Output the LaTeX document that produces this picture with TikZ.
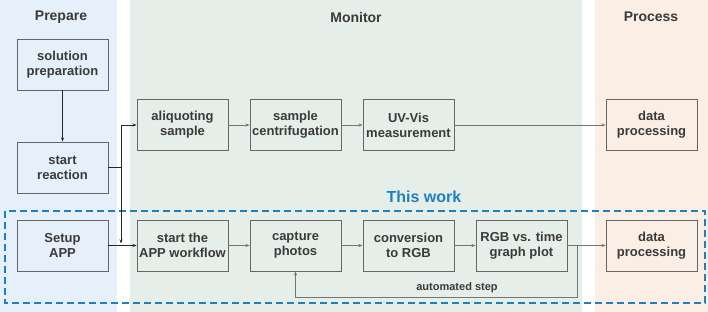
\documentclass[tikz,border=0pt]{standalone}
\usepackage{fontspec}
\setmainfont{Liberation Sans}
\usetikzlibrary{arrows.meta}
\definecolor{prepbg}{HTML}{E6F0FA}
\definecolor{monbg}{HTML}{E6EEE9}
\definecolor{procbg}{HTML}{FBEEE5}
\definecolor{boxline}{HTML}{666666}
\definecolor{txtgray}{HTML}{3A3A3A}
\definecolor{workblue}{HTML}{1F80C0}
\begin{document}
\begin{tikzpicture}[x=1pt, y=-1pt,
    stepbox/.style={draw=boxline, line width=0.9pt, minimum width=91pt, minimum height=51pt,
        inner sep=0pt, align=center, text=txtgray, font=\bfseries\fontsize{13}{15}\selectfont},
    title/.style={text=txtgray, font=\bfseries\fontsize{14}{16}\selectfont},
    darkflow/.style={-{Stealth[length=4pt, width=3pt]}, line width=0.9pt, draw=black!85},
    grayflow/.style={-{Stealth[length=4pt, width=3pt]}, line width=0.7pt, draw=black!55}]
    % Fond des trois colonnes
    \useasboundingbox (0,0) rectangle (708,312);
    \fill[white] (0,0) rectangle (708,312);
    \fill[prepbg] (0,0) rectangle (117,312);
    \fill[monbg] (130,0) rectangle (582,312);
    \fill[procbg] (595,0) rectangle (708,312);

    % Titres
    \node[title] (tprep) at (61,17) {Prepare};
    \node[title] (tmon) at (356,17) {Monitor};
    \node[title] (tproc) at (651,17) {Process};

    % Cadre "This work"
    \draw[workblue, line width=1.6pt, dash pattern=on 7pt off 4pt] (5,211) rectangle (705,303);
    \node[text=workblue, font=\bfseries\fontsize{16}{18}\selectfont] (twork) at (424,197) {This work};

    % Etapes
    \node[stepbox] (solprep) at (62.5,64.5) {solution\\preparation};
    \node[stepbox] (startr) at (62.5,167.5) {start\\reaction};
    \node[stepbox] (setup) at (62.5,245.5) {Setup\\APP};
    \node[stepbox] (aliq) at (182.5,125) {aliquoting\\sample};
    \node[stepbox] (centr) at (295.5,125) {sample\\centrifugation};
    \node[stepbox] (uvvis) at (408.5,125) {UV-Vis\\measurement};
    \node[stepbox] (dproca) at (651.5,125) {data\\processing};
    \node[stepbox] (appflow) at (182.5,245.5) {start the\\APP workflow};
    \node[stepbox] (capture) at (295.5,245.5) {capture\\photos};
    \node[stepbox] (conv) at (408.5,245.5) {conversion\\to RGB};
    \node[stepbox] (rgbplot) at (521.5,245.5) {RGB vs. time\\graph plot};
    \node[stepbox] (dprocb) at (651.5,245.5) {data\\processing};

    % Liaisons
    \coordinate (split) at (121,167.5);
    \coordinate (loop) at (577,245.5);
    \draw[darkflow] (solprep) -- (startr);
    \draw[darkflow] (startr.east) -- (split) |- (aliq.west);
    \draw[darkflow] (split) -- ([yshift=2pt]split |- setup.east);
    \draw[darkflow] (setup.east) -- (appflow.west);
    \draw[grayflow] (aliq) -- (centr);
    \draw[grayflow] (centr) -- (uvvis);
    \draw[grayflow] (uvvis) -- (dproca);
    \draw[grayflow] (appflow) -- (capture);
    \draw[grayflow] (capture) -- (conv);
    \draw[grayflow] (conv) -- (rgbplot);
    \draw[grayflow] (rgbplot) -- (dprocb);
    \draw[grayflow] (loop) -- (577,297) -| (capture.south);
    \node[text=txtgray, font=\bfseries\fontsize{11}{13}\selectfont] (auto) at (457,288) {automated step};
\end{tikzpicture}
\end{document}
